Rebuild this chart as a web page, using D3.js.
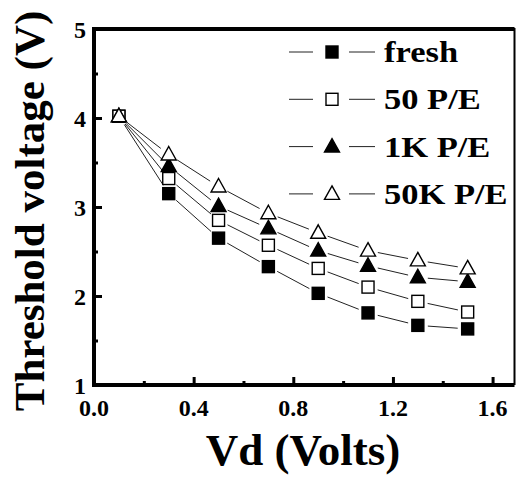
<!DOCTYPE html>
<html>
<head>
<meta charset="utf-8">
<script src="https://cdnjs.cloudflare.com/ajax/libs/d3/7.8.5/d3.min.js"></script>
<style>
  body { margin: 0; background: #fff; }
  text { font-family: "Liberation Serif", "Times New Roman", serif; font-weight: bold; fill: #000; }
</style>
</head>
<body>
<div id="chart"></div>
<script>
// drain voltage (V)
const vd = [0.1, 0.3, 0.5, 0.7, 0.9, 1.1, 1.3, 1.5];
// threshold voltage for each stress condition
const fresh = [4.02, 3.15, 2.65, 2.33, 2.03, 1.81, 1.67, 1.63];
const pe50 = [4.02, 3.32, 2.85, 2.57, 2.31, 2.10, 1.94, 1.82];
const pe1k = [4.02, 3.46, 3.01, 2.76, 2.51, 2.34, 2.21, 2.16];
const pe50k = [4.02, 3.59, 3.23, 2.93, 2.71, 2.51, 2.40, 2.31];
const seriesNames = ["fresh", "50 P/E", "1K P/E", "50K P/E"];
const xTicks = [0.0, 0.4, 0.8, 1.2, 1.6];
const yTicks = [1, 2, 3, 4, 5];

const width = 516, height = 477;
const margin = {top: 29, right: 1, bottom: 92, left: 94};

const svg = d3.select("#chart").append("svg")
    .attr("width", width)
    .attr("height", height);

const x = d3.scaleLinear().domain([0, 1.69]).range([margin.left, width - margin.right]);
const y = d3.scaleLinear().domain([1, 5]).range([height - margin.bottom, margin.top]);

const series = [
    {name: seriesNames[0], values: fresh, shape: "square", filled: true},
    {name: seriesNames[1], values: pe50, shape: "square", filled: false},
    {name: seriesNames[2], values: pe1k, shape: "triangle", filled: true},
    {name: seriesNames[3], values: pe50k, shape: "triangle", filled: false}
];

function marker(g, d, cx, cy) {
    if (d.shape === "square") {
        g.append("rect")
            .attr("x", cx - 6).attr("y", cy - 6)
            .attr("width", 12).attr("height", 12)
            .attr("fill", d.filled ? "#000" : "#fff")
            .attr("stroke", "#000").attr("stroke-width", 1.4);
    } else {
        g.append("path")
            .attr("d", `M${cx},${cy - 8}L${cx + 7.5},${cy + 5.5}L${cx - 7.5},${cy + 5.5}Z`)
            .attr("fill", d.filled ? "#000" : "#fff")
            .attr("stroke", "#000").attr("stroke-width", 1.4);
    }
}

// connecting lines with a gap around each symbol
const gap = 10;
series.forEach(s => {
    const pts = vd.map((v, i) => [x(v), y(s.values[i])]);
    for (let i = 0; i < pts.length - 1; i++) {
        const [x1, y1] = pts[i], [x2, y2] = pts[i + 1];
        const len = Math.hypot(x2 - x1, y2 - y1);
        const ux = (x2 - x1) / len, uy = (y2 - y1) / len;
        svg.append("line")
            .attr("x1", x1 + ux * gap).attr("y1", y1 + uy * gap)
            .attr("x2", x2 - ux * gap).attr("y2", y2 - uy * gap)
            .attr("stroke", "#222").attr("stroke-width", 1);
    }
});

series.forEach(s => {
    const g = svg.append("g");
    vd.forEach((v, i) => marker(g, s, x(v), y(s.values[i])));
});

// axes: inward ticks, major and minor
const xAxis = svg.append("g").attr("transform", `translate(0,${y(1)})`);
xAxis.call(d3.axisTop(x).tickValues(d3.range(0, 1.7, 0.2)).tickSize(4).tickFormat(""));
xAxis.call(g => g.selectAll(".tick").filter(d => xTicks.some(t => Math.abs(t - d) < 1e-6))
    .select("line").attr("y2", -8));
xAxis.selectAll(".tick line").attr("stroke-width", 3);
xAxis.select(".domain").remove();

const yAxis = svg.append("g").attr("transform", `translate(${x(0)},0)`);
yAxis.call(d3.axisRight(y).tickValues(d3.range(1, 5.01, 0.5)).tickSize(4).tickFormat(""));
yAxis.call(g => g.selectAll(".tick").filter(d => yTicks.includes(d))
    .select("line").attr("x2", 8));
yAxis.selectAll(".tick line").attr("stroke-width", 3);
yAxis.select(".domain").remove();

// frame
svg.append("path")
    .attr("d", `M${x(0)},${y(5)}H${width - 1.5}V${y(1)}`)
    .attr("fill", "none").attr("stroke", "#000").attr("stroke-width", 2);
svg.append("path")
    .attr("d", `M${x(0)},${y(5) - 2}V${y(1)}H${width - 1.5}`)
    .attr("fill", "none").attr("stroke", "#000").attr("stroke-width", 4);
svg.append("line")
    .attr("x1", x(0)).attr("x2", width - 1.5)
    .attr("y1", y(5)).attr("y2", y(5))
    .attr("stroke", "#000").attr("stroke-width", 4);

// tick labels
svg.selectAll(".xlab").data(xTicks).enter().append("text")
    .attr("x", d => x(d)).attr("y", y(1) + 31)
    .attr("text-anchor", "middle")
    .style("font-size", "24px")
    .text(d => d.toFixed(1));
svg.selectAll(".ylab").data(yTicks).enter().append("text")
    .attr("x", x(0) - 8).attr("y", d => y(d) + 9)
    .attr("text-anchor", "end")
    .style("font-size", "24px")
    .text(d => d);

// axis titles
svg.append("text")
    .attr("x", 303).attr("y", 465)
    .attr("text-anchor", "middle")
    .style("font-size", "45px")
    .text("Vd (Volts)");
svg.append("text")
    .attr("transform", "translate(44,211) rotate(-90)")
    .attr("text-anchor", "middle")
    .style("font-size", "43px")
    .text("Threshold voltage (V)");

// legend
const legend = svg.append("g");
series.forEach((s, i) => {
    const cy = 52 + i * 47.3;
    legend.append("line").attr("x1", 289).attr("x2", 313).attr("y1", cy).attr("y2", cy)
        .attr("stroke", "#222").attr("stroke-width", 1);
    legend.append("line").attr("x1", 349).attr("x2", 375).attr("y1", cy).attr("y2", cy)
        .attr("stroke", "#222").attr("stroke-width", 1);
    marker(legend, s, 332, cy);
    legend.append("text")
        .attr("transform", `translate(384,${cy + 10}) scale(1.15,1)`)
        .style("font-size", "30px")
        .text(s.name);
});
</script>
</body>
</html>
